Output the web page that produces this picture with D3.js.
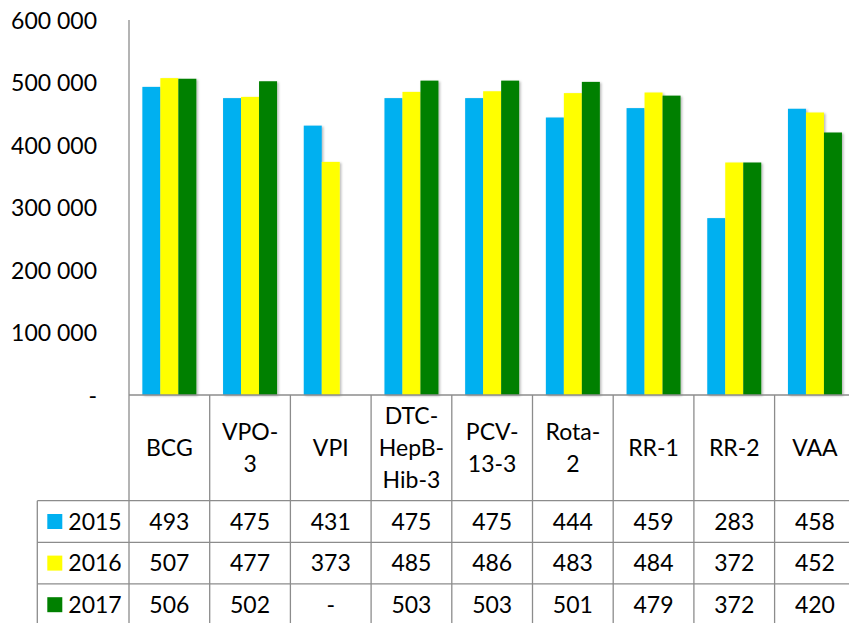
<!DOCTYPE html>
<html>
<head>
<meta charset="utf-8">
<script src="https://cdn.jsdelivr.net/npm/d3@7/dist/d3.min.js"></script>
<style>
  html, body { margin: 0; padding: 0; background: #fff; overflow: hidden; }
  svg { display: block; }
  text { font-family: Lato, "Open Sans", sans-serif; fill: #000; }
</style>
</head>
<body>
<script>
// ---- Data ----
const categories = ["BCG", "VPO-3", "VPI", "DTC-HepB-Hib-3", "PCV-13-3", "Rota-2", "RR-1", "RR-2", "VAA"];
const categoryLines = [["BCG"], ["VPO-", "3"], ["VPI"], ["DTC-", "HepB-", "Hib-3"], ["PCV-", "13-3"], ["Rota-", "2"], ["RR-1"], ["RR-2"], ["VAA"]];
const years = ["2015", "2016", "2017"];
const values2015 = [493, 475, 431, 475, 475, 444, 459, 283, 458]; // thousands
const values2016 = [507, 477, 373, 485, 486, 483, 484, 372, 452];
const values2017 = [506, 502, null, 503, 503, 501, 479, 372, 420];
const seriesValues = [values2015, values2016, values2017];
const colors = ["#00B0F0", "#FFFF00", "#008000"];
const yTicks = [0, 100000, 200000, 300000, 400000, 500000, 600000];

// ---- Layout ----
const W = 849, H = 623;
const axisX = 129, plotTop = 20, baseY = 395;
const colW = 80.7;
const plotRight = axisX + categories.length * colW;
const headerBottom = 500.7;
const rowH = 41.6;
const tableLeft = 37.3;
const gridColor = "#8c8c8c";
const fontSize = 23;

const svg = d3.select("body").append("svg").attr("width", W).attr("height", H);

const defs = svg.append("defs");
const f = defs.append("filter").attr("id", "shadow").attr("x", "-20%").attr("y", "-5%").attr("width", "150%").attr("height", "115%");
f.append("feDropShadow").attr("dx", 1.5).attr("dy", 1).attr("stdDeviation", 1.3)
  .attr("flood-color", "#000").attr("flood-opacity", 0.28);

const x0 = d3.scaleBand().domain(categories).range([axisX, plotRight]).padding(0);
const x1 = d3.scaleBand().domain(years).range([0, x0.bandwidth()]).paddingInner(0).paddingOuter(0.742);
const y = d3.scaleLinear().domain([0, 600000]).range([baseY, plotTop]);

const locale = d3.formatLocale({ decimal: ",", thousands: " ", grouping: [3], currency: ["", ""] });
const fmt = locale.format(",d");

// ---- Bars ----
const barData = [];
categories.forEach((c, i) => {
  years.forEach((yr, j) => {
    const v = seriesValues[j][i];
    if (v !== null) barData.push({ c, yr, j, v: v * 1000 });
  });
});
svg.append("g").selectAll("rect").data(barData).join("rect")
  .attr("x", d => x0(d.c) + x1(d.yr))
  .attr("y", d => y(d.v))
  .attr("width", x1.bandwidth())
  .attr("height", d => baseY - y(d.v))
  .attr("fill", d => colors[d.j])
  .attr("filter", "url(#shadow)");

// ---- Y axis ----
const yAxis = d3.axisLeft(y).tickValues(yTicks).tickSize(0).tickPadding(0)
  .tickFormat(d => d === 0 ? "-" : fmt(d));
const gy = svg.append("g").attr("transform", `translate(97,0)`).call(yAxis);
gy.select(".domain").remove();
gy.selectAll("text").attr("font-size", fontSize).attr("font-family", "Lato, 'Open Sans', sans-serif")
  .attr("fill", "#000").attr("dy", "0.35em").attr("x", 0);

// ---- Table lines ----
const lines = svg.append("g").attr("stroke", gridColor).attr("stroke-width", 1.3).attr("fill", "none");
const rowYs = [baseY, headerBottom, headerBottom + rowH, headerBottom + 2 * rowH, headerBottom + 3 * rowH];
// y axis line continuing down as table border
lines.append("line").attr("x1", axisX).attr("x2", axisX).attr("y1", plotTop).attr("y2", H + 5);
// top line (x axis)
lines.append("line").attr("x1", axisX).attr("x2", plotRight).attr("y1", baseY).attr("y2", baseY);
// row lines
rowYs.slice(1).forEach(ry => {
  lines.append("line").attr("x1", tableLeft).attr("x2", plotRight).attr("y1", ry).attr("y2", ry);
});
// left border of series rows
lines.append("line").attr("x1", tableLeft).attr("x2", tableLeft).attr("y1", headerBottom).attr("y2", H + 5);
// column separators
categories.forEach(c => {
  const xr = x0(c) + x0.bandwidth();
  lines.append("line").attr("x1", xr).attr("x2", xr).attr("y1", baseY).attr("y2", H + 5);
});

// ---- Category headers ----
const headerMid = (baseY + headerBottom) / 2;
const lineGap = 32;
const hdr = svg.append("g");
categories.forEach((c, i) => {
  const ls = categoryLines[i];
  const cx = x0(c) + x0.bandwidth() / 2;
  ls.forEach((t, k) => {
    hdr.append("text")
      .attr("x", cx)
      .attr("y", headerMid + (k - (ls.length - 1) / 2) * lineGap)
      .attr("dy", "0.35em")
      .attr("text-anchor", "middle")
      .attr("font-size", fontSize)
      .text(t);
  });
});

// ---- Series rows ----
const rows = svg.append("g");
years.forEach((yr, j) => {
  const cy = headerBottom + rowH * j + rowH / 2;
  rows.append("rect").attr("x", 47.3).attr("y", cy - 7.5).attr("width", 15).attr("height", 15).attr("fill", colors[j]);
  rows.append("text").attr("x", 68.3).attr("y", cy).attr("dy", "0.35em").attr("font-size", fontSize).text(yr);
  categories.forEach((c, i) => {
    const v = seriesValues[j][i];
    rows.append("text")
      .attr("x", x0(c) + x0.bandwidth() / 2)
      .attr("y", cy)
      .attr("dy", "0.35em")
      .attr("text-anchor", "middle")
      .attr("font-size", fontSize)
      .text(v === null ? "-" : v);
  });
});
</script>
</body>
</html>
